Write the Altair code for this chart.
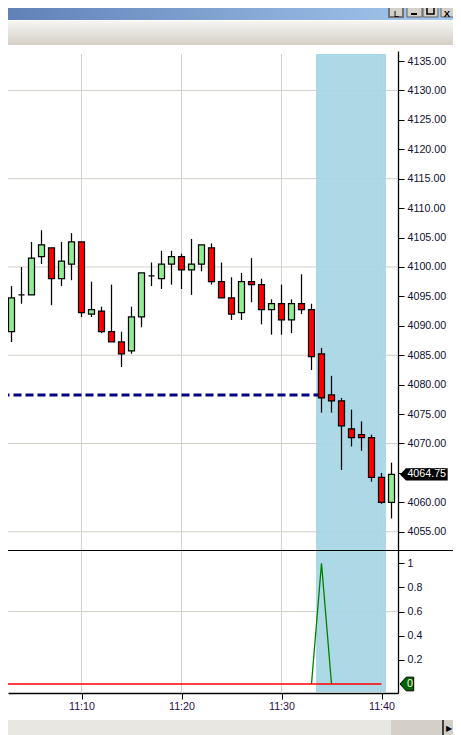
import altair as alt
import pandas as pd

# minutes after 11:00
minutes = list(range(2, 42))
opens = [4094.5,4089.0,4095.25,4095.25,4101.75,4103.25,4098.0,4100.5,4104.25,4092.0,
         4092.5,4089.0,4087.25,4085.75,4091.5,4098.5,4098.0,4100.5,4101.75,4099.5,
         4100.5,4103.25,4097.5,4094.75,4092.25,4097.5,4097.0,4092.75,4093.75,4091.0,
         4093.75,4092.75,4085.25,4078.25,4077.25,4072.5,4071.5,4071.0,4064.25,4060.0]
highs = [4097.0,4096.75,4100.0,4104.25,4106.25,4103.25,4104.25,4105.75,4104.25,4097.5,
         4093.25,4097.0,4089.0,4093.25,4099.0,4100.75,4102.75,4102.75,4102.25,4104.75,
         4103.75,4104.0,4100.75,4098.25,4099.0,4101.5,4098.0,4094.5,4097.0,4094.5,
         4098.75,4093.75,4086.25,4081.5,4077.75,4075.75,4073.75,4071.5,4065.0,4066.75]
lows = [4088.0,4087.25,4093.75,4095.25,4100.5,4093.5,4096.75,4097.75,4091.5,4091.5,
        4088.75,4087.25,4083.0,4085.25,4089.75,4096.75,4096.25,4097.0,4096.25,4095.25,
        4099.25,4097.0,4094.75,4091.0,4091.0,4094.0,4090.25,4088.5,4088.5,4088.75,
        4092.0,4082.5,4075.25,4075.25,4065.5,4069.5,4068.75,4063.5,4059.75,4057.25]
closes = [4089.5,4094.75,4095.25,4101.5,4103.75,4098.0,4101.0,4104.25,4092.25,4092.75,
          4089.0,4087.25,4085.25,4091.5,4099.0,4098.5,4100.5,4101.75,4099.5,4100.5,
          4103.75,4097.5,4094.75,4092.0,4097.5,4097.0,4092.75,4093.75,4091.0,4093.75,
          4092.75,4084.75,4077.75,4077.25,4073.0,4071.0,4071.0,4064.25,4060.0,4064.75]

price_ticks = list(range(4055, 4140, 5))
price_grid = [4055, 4070, 4085, 4100, 4115, 4130]
minute_ticks = [10, 20, 30, 40]
ind_ticks = [0.2, 0.4, 0.6, 0.8, 1]
ind_grid = [0.6]
dash_price = 4078.25
dash_minutes = [2, 34]
band_minutes = (33.45, 40.45)
red_minutes = list(range(2, 41))
red_values = [0] * len(red_minutes)
green_minutes = [33, 34, 35]
green_values = [0, 1, 0]
last_price = 4064.75

FONT = "Liberation Sans"
FS = 10.7
GRID = "#D4D0C8"
PRICE = alt.Scale(domain=[4051.9, 4136.7], range=[542, 43], nice=False, zero=False)
IND = alt.Scale(domain=[-0.0744, 1.11], range=[685, 542], nice=False, zero=False)
XS = alt.Scale(domain=[2.65, 41.65], nice=False, zero=False, padding=0)
XA = alt.Axis(
    orient="bottom", values=minute_ticks, labelExpr="'11:' + datum.value", title=None, grid=False,
    domainColor="#000000", domainWidth=1.3, tickColor="#000000", tickSize=6, tickWidth=1,
    labelFont=FONT, labelFontSize=FS, labelColor="#2A0A50", labelPadding=2,
    labelFlush=False, labelOverlap=False, labelBound=False)

df = pd.DataFrame({"t": minutes, "o": opens, "h": highs, "l": lows, "c": closes})
df["dir"] = ["up" if c >= o else "down" for o, c in zip(opens, closes)]

def one():
    return alt.Data(values=[{"a": 1}])

def box(x0, x1, y0, y1, **kw):
    return alt.Chart(one()).mark_rect(**kw).encode(
        x=alt.value(x0 - 8), x2=alt.value(x1 - 8), y=alt.value(y0 - 8), y2=alt.value(y1 - 8))

def label(x, y, s, **kw):
    return alt.Chart(one()).mark_text(text=s, font=FONT, baseline="middle", align="center", **kw).encode(
        x=alt.value(x - 8), y=alt.value(y - 8))

title_grad = alt.Gradient(gradient="linear", x1=0, x2=1, y1=0, y2=0,
                          stops=[alt.GradientStop(offset=0, color="#5F80B6"),
                                 alt.GradientStop(offset=1, color="#A6CAF0")])
menu_grad = alt.Gradient(gradient="linear", x1=0, x2=0, y1=0, y2=1,
                         stops=[alt.GradientStop(offset=0, color="#F6F5F2"),
                                alt.GradientStop(offset=1, color="#D4D0C8")])

chrome = [
    box(0, 461, 0, 3, color="#D4D0C8"),
    box(0, 459, 3, 20, color=title_grad),
    box(0, 458, 21, 45, color=menu_grad),
    box(458, 459, 21, 45, color="#808080"),
    box(389, 403, 5, 17, color="#D4D0C8", stroke="#707070", strokeWidth=2),
    label(396.5, 13.5, "L", fontSize=9.5, color="#000000"),
    box(407, 422, 4, 17, color="#D4D0C8", stroke="#606060", strokeWidth=1),
    box(411, 417, 13, 15, color="#000000"),
    box(423, 438, 4, 17, color="#D4D0C8", stroke="#606060", strokeWidth=1),
    box(427, 434, 7, 14, color="#D4D0C8", stroke="#000000", strokeWidth=1.5),
    box(441, 457, 4, 17, color="#D4D0C8", stroke="#606060", strokeWidth=1),
    label(447, 13.5, "X", fontSize=9.5, fontWeight="bold", color="#000000"),
    box(0, 391, 720, 735, color="#E9E7E2"),
    box(391, 442, 720, 735, color="#D4D0C8"),
    box(442, 444, 720, 735, color="#404040"),
    box(444, 459, 720, 735, color="#D4D0C8"),
    label(449, 729, "▶", fontSize=8, color="#000000"),
]

hgrid = alt.Chart(pd.DataFrame({"p": price_grid})).mark_rule(color=GRID, strokeWidth=1).encode(
    y=alt.Y("p:Q", scale=PRICE, axis=None), x=alt.value(0), x2=alt.value(390))
igrid = alt.Chart(pd.DataFrame({"p": ind_grid})).mark_rule(color=GRID, strokeWidth=1).encode(
    y=alt.Y("p:Q", scale=IND, axis=None), x=alt.value(0), x2=alt.value(390))
vgrid = alt.Chart(pd.DataFrame({"t": minute_ticks})).mark_rule(color=GRID, strokeWidth=1).encode(
    x=alt.X("t:Q", scale=XS, axis=XA),
    y=alt.value(46), y2=alt.value(685))

band = alt.Chart(pd.DataFrame({"a": [band_minutes[0]], "b": [band_minutes[1]]})).mark_rect(
    color="#A6D5E4", opacity=0.92).encode(
    x=alt.X("a:Q", scale=XS, axis=XA), x2="b:Q", y=alt.value(46), y2=alt.value(684))

dash = alt.Chart(pd.DataFrame({"t": dash_minutes, "p": [dash_price] * 2})).mark_line(
    color="#000080", strokeWidth=3, strokeDash=[8, 4]).encode(
    x=alt.X("t:Q", scale=XS, axis=XA), y=alt.Y("p:Q", scale=PRICE, axis=None))

wicks = alt.Chart(df).mark_rule(color="#000000", strokeWidth=1.25).encode(
    x=alt.X("t:Q", scale=XS, axis=XA),
    y=alt.Y("h:Q", scale=PRICE, axis=None), y2="l:Q")
bodies = alt.Chart(df).mark_bar(size=6, orient="vertical", stroke="#000000", strokeWidth=1.25).encode(
    x=alt.X("t:Q", scale=XS, axis=XA),
    y=alt.Y("o:Q", scale=PRICE, axis=None), y2="c:Q",
    fill=alt.Fill("dir:N", scale=alt.Scale(domain=["up", "down"], range=["#90EE90", "#FF0000"]), legend=None))

green_line = alt.Chart(pd.DataFrame({"t": green_minutes, "v": green_values})).mark_line(
    color="#008000", strokeWidth=1.3).encode(
    x=alt.X("t:Q", scale=XS, axis=XA), y=alt.Y("v:Q", scale=IND, axis=None))
red_line = alt.Chart(pd.DataFrame({"t": red_minutes, "v": red_values})).mark_line(
    color="#FF0000", strokeWidth=1.5).encode(
    x=alt.X("t:Q", scale=XS, axis=XA), y=alt.Y("v:Q", scale=IND, axis=None))

price_axis = alt.Chart(pd.DataFrame({"p": price_ticks})).mark_rule(opacity=0).encode(
    y=alt.Y("p:Q", scale=PRICE, axis=alt.Axis(
        orient="right", values=price_ticks, format=".2f", title=None, grid=False,
        domainColor="#000000", domainWidth=1.3, tickColor="#000000", tickSize=6, tickWidth=1,
        labelFont=FONT, labelFontSize=FS, labelColor="#101030", labelPadding=3,
        labelFlush=False, labelOverlap=False, labelBound=False)),
    x=alt.value(0))
ind_axis = alt.Chart(pd.DataFrame({"p": ind_ticks})).mark_rule(opacity=0).encode(
    y=alt.Y("p:Q", scale=IND, axis=alt.Axis(
        orient="right", values=ind_ticks, format="~g", title=None, grid=False,
        domainColor="#000000", domainWidth=1.3, tickColor="#000000", tickSize=6, tickWidth=1,
        labelFont=FONT, labelFontSize=FS, labelColor="#101030", labelPadding=3,
        labelFlush=False, labelOverlap=False, labelBound=False)),
    x=alt.value(0))

sep = box(0, 459, 550.5, 550.51, stroke="#000000", strokeWidth=1)

tag_price = alt.Chart(pd.DataFrame({"p": [last_price]})).mark_point(
    shape="M-1,0L-0.75,-0.26L1,-0.26L1,0.26L-0.75,0.26Z", filled=True, color="#000000",
    size=47.7 ** 2, opacity=1).encode(
    x=alt.value(423.85 - 8), y=alt.Y("p:Q", scale=PRICE, axis=None))
tag_price_text = alt.Chart(pd.DataFrame({"p": [last_price]})).mark_text(
    font=FONT, fontSize=FS, color="#FFFFFF", baseline="middle", align="center").encode(
    x=alt.value(426.7 - 8), y=alt.Y("p:Q", scale=PRICE, axis=None),
    text=alt.Text("p:Q", format=".2f"))
tag_zero = alt.Chart(pd.DataFrame({"p": [0]})).mark_point(
    shape="M-1,0L-0.1,-1L1,-1L1,1L-0.1,1Z", filled=True, fill="#006400", stroke="#000000",
    strokeWidth=1, size=13.7 ** 2, opacity=1).encode(
    x=alt.value(406.85 - 8), y=alt.Y("p:Q", scale=IND, axis=None))
tag_zero_text = alt.Chart(pd.DataFrame({"p": [0]})).mark_text(
    font=FONT, fontSize=FS, color="#FFFFE0", baseline="middle", align="center").encode(
    x=alt.value(410 - 8), y=alt.Y("p:Q", scale=IND, axis=None), text=alt.Text("p:Q"))

chart = alt.layer(
    *chrome, hgrid, igrid, vgrid, band, dash, wicks, bodies, green_line, red_line,
    price_axis, ind_axis, sep, tag_price, tag_price_text, tag_zero, tag_zero_text,
).resolve_scale(y="independent", fill="independent").properties(
    width=390, height=685,
    padding={"left": 0, "top": 0, "right": 55, "bottom": 42},
    autosize=alt.AutoSizeParams(type="none"),
    background="#FFFFFF",
).configure_view(stroke=None)

chart.save("out.html", embed_options={"renderer": "svg", "actions": False})
